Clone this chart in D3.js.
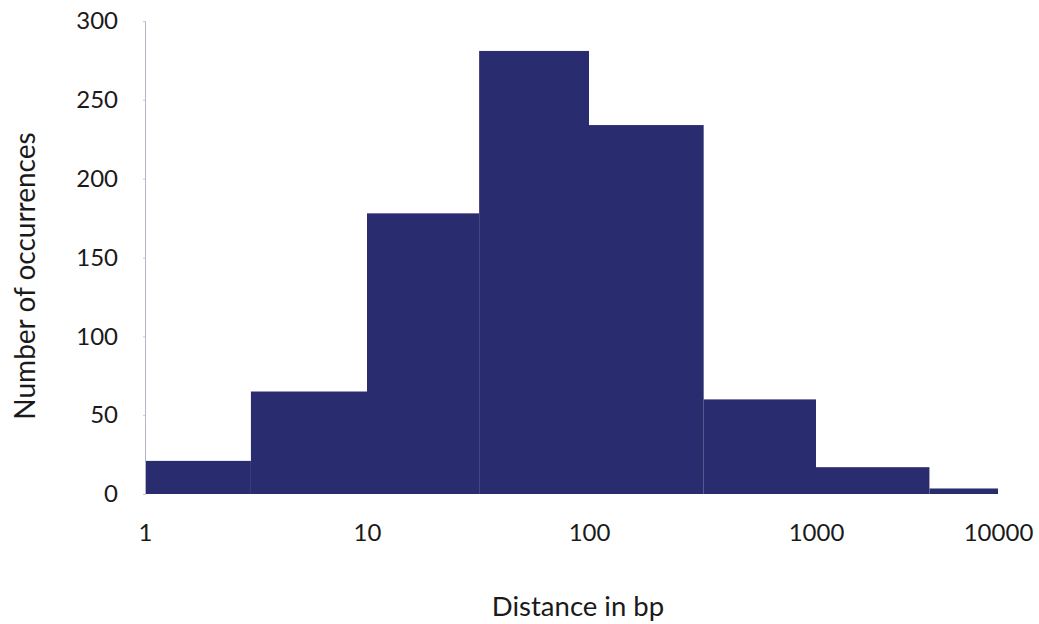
<!DOCTYPE html>
<html><head><meta charset="utf-8">
<script src="https://cdn.jsdelivr.net/npm/d3@7"></script>
<style>body{margin:0;background:#fff}svg text{font-family:Lato,"Open Sans",sans-serif;fill:#1a1a1a}</style>
</head><body>
<svg id="c" width="1039" height="624"></svg>
<script>
// Data
const binEdges = [1, 3, 10, 32, 100, 320, 1000, 4200, 10000];
const counts = [21, 65, 178, 281, 234, 60, 17, 3.5];
const xTicks = [1, 10, 100, 1000, 10000];
const xTickLabels = ["1", "10", "100", "1000", "10000"];
const yTicks = [0, 50, 100, 150, 200, 250, 300];
const xTitle = "Distance in bp";
const yTitle = "Number of occurrences";

const svg = d3.select("#c");
const x = d3.scaleLog().domain([1, 10, 100, 1000, 10000]).range([145, 367, 589, 816, 998]);
const y = d3.scaleLinear().domain([0, 300]).range([494, 21]);
const color = "#2a2c70";

const bins = counts.map((c, i) => ({x0: binEdges[i], x1: binEdges[i + 1], c}));
svg.append("g").selectAll("rect").data(bins).join("rect")
  .attr("x", d => x(d.x0)).attr("width", d => x(d.x1) - x(d.x0))
  .attr("y", d => y(d.c)).attr("height", d => y(0) - y(d.c))
  .attr("fill", color);

// y axis
const ya = svg.append("g").attr("transform", "translate(145,0)")
  .call(d3.axisLeft(y).tickValues(yTicks).tickSize(2).tickPadding(25));
ya.select(".domain").attr("stroke", "#b5b5c8").attr("stroke-width", 1);
ya.selectAll(".tick line").attr("stroke", "#c8c8d8");
ya.selectAll(".tick text").attr("font-size", 24).style("font-family", "Lato");

// x tick labels
const xa = svg.append("g").attr("transform", "translate(0,494)")
  .call(d3.axisBottom(x).tickValues(xTicks).tickFormat((d, i) => xTickLabels[i]).tickSize(0).tickPadding(30));
xa.select(".domain").remove();
xa.selectAll(".tick text").attr("font-size", 24).style("font-family", "Lato");

svg.append("text").attr("x", 578).attr("y", 616).attr("text-anchor", "middle")
  .attr("font-size", 27.5).text(xTitle);
svg.append("text").attr("transform", "translate(35,276) rotate(-90)").attr("text-anchor", "middle")
  .attr("font-size", 28).text(yTitle);
</script>
</body></html>
